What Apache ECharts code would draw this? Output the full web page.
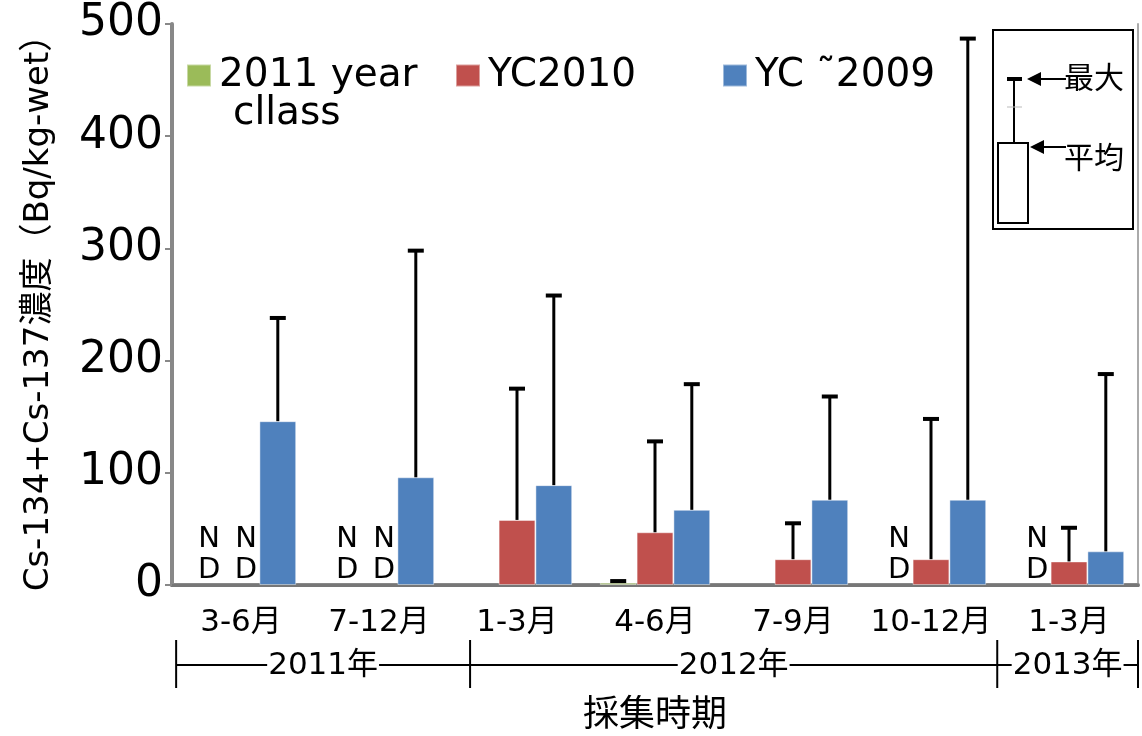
<!DOCTYPE html>
<html>
<head>
<meta charset="utf-8">
<script src="https://cdn.jsdelivr.net/npm/echarts@6/dist/echarts.min.js"></script>
<style>
  html, body { margin: 0; padding: 0; background: #fff; }
  #chart { width: 1142px; height: 736px; }
</style>
</head>
<body>
<div id="chart"></div>
<script>
// Sampling periods (category axis)
const periods = ['3-6月', '7-12月', '1-3月', '4-6月', '7-9月', '10-12月', '1-3月'];
const seriesNames = ['2011 year', 'YC2010', 'YC ˜2009'];
const seriesColors = ['#9BBB59', '#C0504D', '#4F81BD'];

// Mean and maximum concentration (Bq/kg-wet) per year class
const meanClass2011 = [null, null, null, 2, null, null, null];
const maxClass2011  = [null, null, null, 3.5, null, null, null];
const meanYC2010    = [null, null, 58, 47, 23, 23, 21];
const maxYC2010     = [null, null, 175, 128, 55, 148, 51];
const meanYC2009    = [146, 96, 89, 67, 76, 76, 30];
const maxYC2009     = [238, 298, 258, 179, 168, 487, 188];

// Not detected: [period index, series slot]
const notDetected = [[0, 0], [0, 1], [1, 0], [1, 1], [5, 0], [6, 0]];

// Year brackets under the period labels (in category units)
const yearLabels = ['2011年', '2012年', '2013年'];
const yearBreaks = [-0.47, 1.66, 5.48, 6.5];

const yMin = 0, yMax = 500, yStep = 100;

const FONT = "'DejaVu Sans', 'Noto Sans CJK JP', sans-serif";
const BAR_SHARE = 0.8; // 1 - barCategoryGap

const means = [meanClass2011, meanYC2010, meanYC2009];
const maxes = [maxClass2011, maxYC2010, maxYC2009];
const legendLeft = [186, 455, 722];

function slotOffset(api, slot) {
  const band = api.size([1, 0])[0];
  const w = band * BAR_SHARE / 3;
  return (slot - 1) * w;
}

function errorBarRenderer(slot) {
  return function (params, api) {
    const x = api.coord([api.value(0), 0])[0] + slotOffset(api, slot);
    const yMean = api.coord([api.value(0), api.value(1)])[1];
    const yTop = api.coord([api.value(0), api.value(2)])[1];
    return {
      type: 'group',
      children: [
        { type: 'line', shape: { x1: x, y1: yMean, x2: x, y2: yTop }, style: { stroke: '#000', lineWidth: 3 } },
        { type: 'line', shape: { x1: x - 8, y1: yTop, x2: x + 8, y2: yTop }, style: { stroke: '#000', lineWidth: 4 } }
      ]
    };
  };
}

function ndRenderer(params, api) {
  const x = api.coord([api.value(0), 0])[0] + slotOffset(api, api.value(2)) + 5;
  const y = api.coord([api.value(0), 0])[1];
  return {
    type: 'text',
    style: {
      x: x, y: y + 1, text: 'N\nD', fill: '#000',
      font: '29px ' + FONT, lineHeight: 31,
      align: 'center', verticalAlign: 'bottom'
    }
  };
}

const barSeries = seriesNames.map((name, s) => ({
  name: name,
  type: 'bar',
  barGap: 0,
  barCategoryGap: '20%',
  data: means[s].map(v => (v === null ? '-' : v)),
  itemStyle: { color: seriesColors[s], borderColor: 'rgba(255,255,255,0.45)', borderWidth: 1 },
  z: 2
}));

const errSeries = seriesNames.map((name, s) => ({
  type: 'custom',
  renderItem: errorBarRenderer(s),
  encode: { x: 0, y: [1, 2] },
  data: means[s].map((v, i) => [i, v, maxes[s][i]]).filter(d => d[1] !== null),
  silent: true,
  z: 3
}));

const ndSeries = {
  type: 'custom',
  renderItem: ndRenderer,
  encode: { x: 0, y: 1 },
  data: notDetected.map(d => [d[0], 0, d[1]]),
  silent: true,
  z: 4
};

const legends = seriesNames.map((name, s) => ({
  data: [name],
  left: legendLeft[s], top: 56,
  padding: 0,
  itemWidth: 24, itemHeight: 22,
  icon: 'rect',
  selectedMode: false,
  textStyle: { fontSize: 39, color: '#000', fontFamily: FONT, padding: [0, 0, 0, 3] }
}));

const chart = echarts.init(document.getElementById('chart'), null, { renderer: 'canvas' });

chart.setOption({
  animation: false,
  backgroundColor: '#fff',
  textStyle: { fontFamily: FONT },
  grid: { left: 172, right: 4, top: 24, bottom: 151, outerBoundsMode: 'none', containLabel: false },
  legend: legends,
  xAxis: [
    {
      type: 'category',
      data: periods,
      axisLine: { lineStyle: { color: '#888', width: 4 } },
      axisTick: { show: false },
      axisLabel: { color: '#000', fontSize: 31, margin: 22, interval: 0 },
      name: '採集時期',
      nameLocation: 'middle',
      nameGap: 114,
      nameTextStyle: { fontSize: 36, color: '#000' }
    },
    {
      type: 'category',
      data: periods,
      position: 'top',
      axisLine: { show: true, lineStyle: { color: '#777', width: 3 } },
      axisTick: { show: false },
      axisLabel: { show: false }
    }
  ],
  yAxis: [
    {
      type: 'value',
      min: yMin, max: yMax, interval: yStep,
      axisLine: { show: true, lineStyle: { color: '#888', width: 4 } },
      axisTick: { show: true, length: 7, lineStyle: { color: '#888', width: 2 } },
      splitLine: { show: false },
      axisLabel: { color: '#000', fontSize: 44, margin: 9 },
      name: 'Cs-134+Cs-137濃度（Bq/kg-wet）',
      nameLocation: 'middle',
      nameRotate: 90,
      nameGap: 116,
      nameTextStyle: { fontSize: 34, color: '#000' }
    },
    {
      type: 'value',
      position: 'right',
      min: yMin, max: yMax, interval: yStep,
      axisLine: { show: true, lineStyle: { color: '#aaa', width: 2 } },
      axisTick: { show: false },
      axisLabel: { show: false },
      splitLine: { show: false }
    }
  ],
  series: [...barSeries, ...errSeries, ndSeries]
});

// Decorations: year brackets, wrapped legend line and the mean/max key
function decorate() {
  const x0 = chart.convertToPixel({ xAxisIndex: 0 }, 0);
  const step = chart.convertToPixel({ xAxisIndex: 0 }, 1) - x0;
  const base = chart.convertToPixel({ yAxisIndex: 0 }, 0);
  const px = f => x0 + f * step;
  const lineY = base + 80;
  const g = [];
  yearBreaks.forEach(b => {
    g.push({ type: 'line', shape: { x1: px(b), y1: base + 55, x2: px(b), y2: base + 103 }, style: { stroke: '#000', lineWidth: 2 } });
  });
  g.push({ type: 'line', shape: { x1: px(yearBreaks[0]), y1: lineY, x2: px(yearBreaks[yearBreaks.length - 1]), y2: lineY }, style: { stroke: '#000', lineWidth: 2 } });
  yearLabels.forEach((t, i) => {
    const cx = (px(yearBreaks[i]) + px(yearBreaks[i + 1])) / 2;
    g.push({
      type: 'text', z: 10,
      style: { x: cx, y: lineY + 1, text: t, font: '31px ' + FONT, fill: '#000', align: 'center', verticalAlign: 'middle', backgroundColor: '#fff', padding: [0, 1] }
    });
  });
  // second line of the first legend entry
  g.push({ type: 'text', style: { x: 233, y: 114, text: 'cllass', font: '39px ' + FONT, fill: '#000', align: 'left', verticalAlign: 'middle' } });

  // mean / max key box
  g.push({ type: 'rect', shape: { x: 993, y: 30, width: 140, height: 199 }, style: { fill: '#fff', stroke: '#000', lineWidth: 2 } });
  g.push({ type: 'rect', shape: { x: 998, y: 143, width: 30, height: 80 }, style: { fill: '#fff', stroke: '#000', lineWidth: 2 } });
  g.push({ type: 'line', shape: { x1: 1014, y1: 143, x2: 1014, y2: 79 }, style: { stroke: '#000', lineWidth: 2 } });
  g.push({ type: 'line', shape: { x1: 1007, y1: 79, x2: 1022, y2: 79 }, style: { stroke: '#000', lineWidth: 4 } });
  g.push({ type: 'line', shape: { x1: 1007, y1: 107, x2: 1022, y2: 107 }, style: { stroke: '#bbb', lineWidth: 1 } });
  [[79, 1027, '最大', 80], [147, 1030, '平均', 160]].forEach(a => {
    const y = a[0], tip = a[1];
    g.push({ type: 'polygon', shape: { points: [[tip, y], [tip + 14, y - 7], [tip + 14, y + 7]] }, style: { fill: '#000' } });
    g.push({ type: 'line', shape: { x1: tip + 12, y1: y, x2: 1066, y2: y }, style: { stroke: '#000', lineWidth: 2 } });
    g.push({ type: 'text', style: { x: 1064, y: a[3], text: a[2], font: '30px ' + FONT, fill: '#000', align: 'left', verticalAlign: 'middle' } });
  });
  chart.setOption({ graphic: { elements: g } });
}
decorate();
</script>
</body>
</html>
